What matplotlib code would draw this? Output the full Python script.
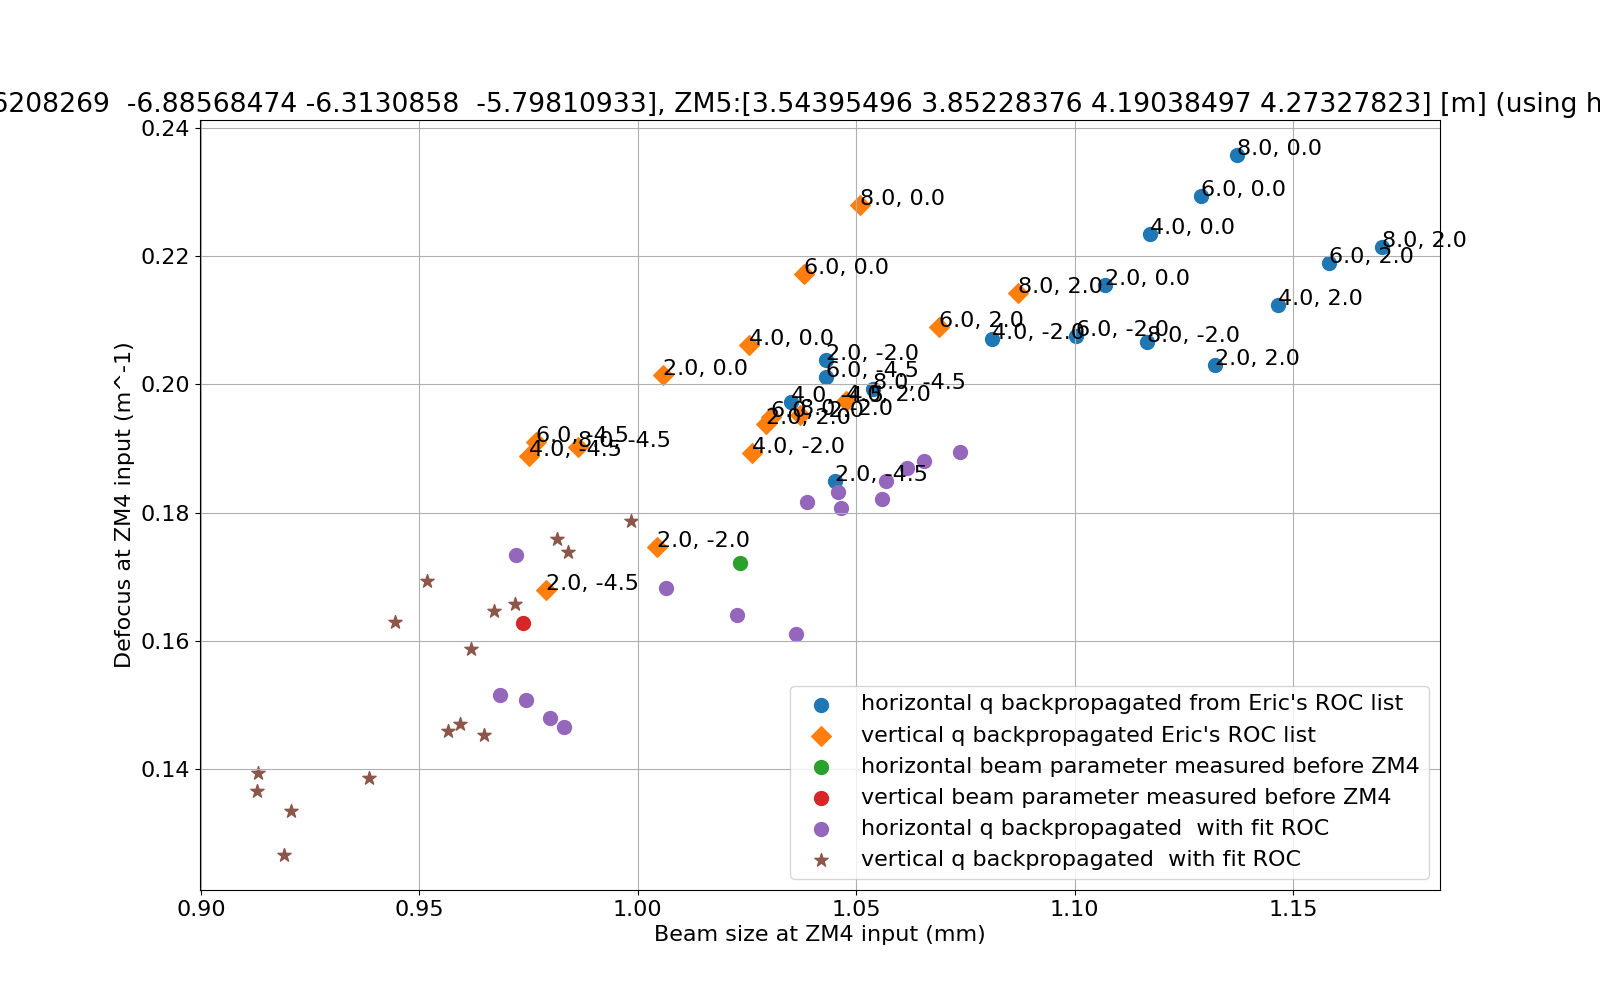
import matplotlib
matplotlib.use("Agg")
import matplotlib.pyplot as plt

plt.rcParams['font.size'] = 16

# ROC pairs used for the backpropagated points (first, second)
roc_pairs = [(2.0, 0.0), (2.0, 2.0), (2.0, -2.0), (2.0, -4.5),
             (4.0, 0.0), (4.0, 2.0), (4.0, -2.0), (4.0, -4.5),
             (6.0, 0.0), (6.0, 2.0), (6.0, -2.0), (6.0, -4.5),
             (8.0, 0.0), (8.0, 2.0), (8.0, -2.0), (8.0, -4.5)]

# horizontal q backpropagated from Eric's ROC list
h_size = [1.1070, 1.1322, 1.0431, 1.0452,
          1.1172, 1.1466, 1.0811, 1.0351,
          1.1289, 1.1583, 1.1002, 1.0431,
          1.1371, 1.1704, 1.1166, 1.0538]
h_defocus = [0.2155, 0.2030, 0.2038, 0.1849,
             0.2235, 0.2124, 0.2071, 0.1973,
             0.2294, 0.2189, 0.2076, 0.2012,
             0.2358, 0.2215, 0.2066, 0.1993]

# vertical q backpropagated from Eric's ROC list
v_size = [1.0057, 1.0294, 1.0045, 0.9791,
          1.0254, 1.0477, 1.0262, 0.9752,
          1.0381, 1.0689, 1.0305, 0.9766,
          1.0509, 1.0871, 1.0371, 0.9862]
v_defocus = [0.2015, 0.1938, 0.1746, 0.1679,
             0.2062, 0.1974, 0.1893, 0.1888,
             0.2172, 0.2090, 0.1949, 0.1910,
             0.2280, 0.2143, 0.1952, 0.1902]

# measured beam parameters before ZM4
h_meas = (1.0233, 0.1721)
v_meas = (0.9737, 0.1628)

# horizontal q backpropagated with fit ROC
hfit_size = [0.9721, 0.9684, 0.9744, 0.9798, 0.9830, 1.0064, 1.0228, 1.0361,
             1.0387, 1.0459, 1.0466, 1.0560, 1.0569, 1.0615, 1.0656, 1.0738]
hfit_defocus = [0.1734, 0.1516, 0.1508, 0.1480, 0.1466, 0.1682, 0.1641, 0.1611,
                0.1816, 0.1832, 0.1807, 0.1822, 0.1850, 0.1870, 0.1880, 0.1895]

# vertical q backpropagated with fit ROC
vfit_size = [0.9984, 0.9815, 0.9840, 0.9517, 0.9444, 0.9718, 0.9670, 0.9618,
             0.9565, 0.9593, 0.9648, 0.9130, 0.9128, 0.9206, 0.9385, 0.9190]
vfit_defocus = [0.1787, 0.1759, 0.1738, 0.1693, 0.1630, 0.1658, 0.1646, 0.1588,
                0.1459, 0.1471, 0.1453, 0.1394, 0.1366, 0.1334, 0.1386, 0.1266]

zm4 = "[-7.46208269  -6.88568474 -6.3130858  -5.79810933]"
zm5 = "[3.54395496 3.85228376 4.19038497 4.27327823]"
title = "ZM4:" + zm4 + ", ZM5:" + zm5 + " [m] (using horizontal fits)"

fig, ax = plt.subplots(figsize=(16, 10), dpi=100)

ax.scatter(h_size, h_defocus, s=100, marker='o', color='C0',
           label="horizontal q backpropagated from Eric's ROC list")
for (a, b), x, y in zip(roc_pairs, h_size, h_defocus):
    ax.annotate("%s, %s" % (a, b), (x, y))

ax.scatter(v_size, v_defocus, s=100, marker='D', color='C1',
           label="vertical q backpropagated Eric's ROC list")
for (a, b), x, y in zip(roc_pairs, v_size, v_defocus):
    ax.annotate("%s, %s" % (a, b), (x, y))

ax.scatter(h_meas[0], h_meas[1], s=100, marker='o', color='C2',
           label="horizontal beam parameter measured before ZM4")
ax.scatter(v_meas[0], v_meas[1], s=100, marker='o', color='C3',
           label="vertical beam parameter measured before ZM4")
ax.scatter(hfit_size, hfit_defocus, s=100, marker='o', color='C4',
           label="horizontal q backpropagated  with fit ROC")
ax.scatter(vfit_size, vfit_defocus, s=100, marker='*', color='C5',
           label="vertical q backpropagated  with fit ROC")

ax.set_xlim(0.8998, 1.1836)
ax.set_xlabel("Beam size at ZM4 input (mm)")
ax.set_ylabel("Defocus at ZM4 input (m^-1)")
ax.set_title(title)
ax.grid(True)
ax.legend(loc='lower right')

plt.savefig("out.png")
